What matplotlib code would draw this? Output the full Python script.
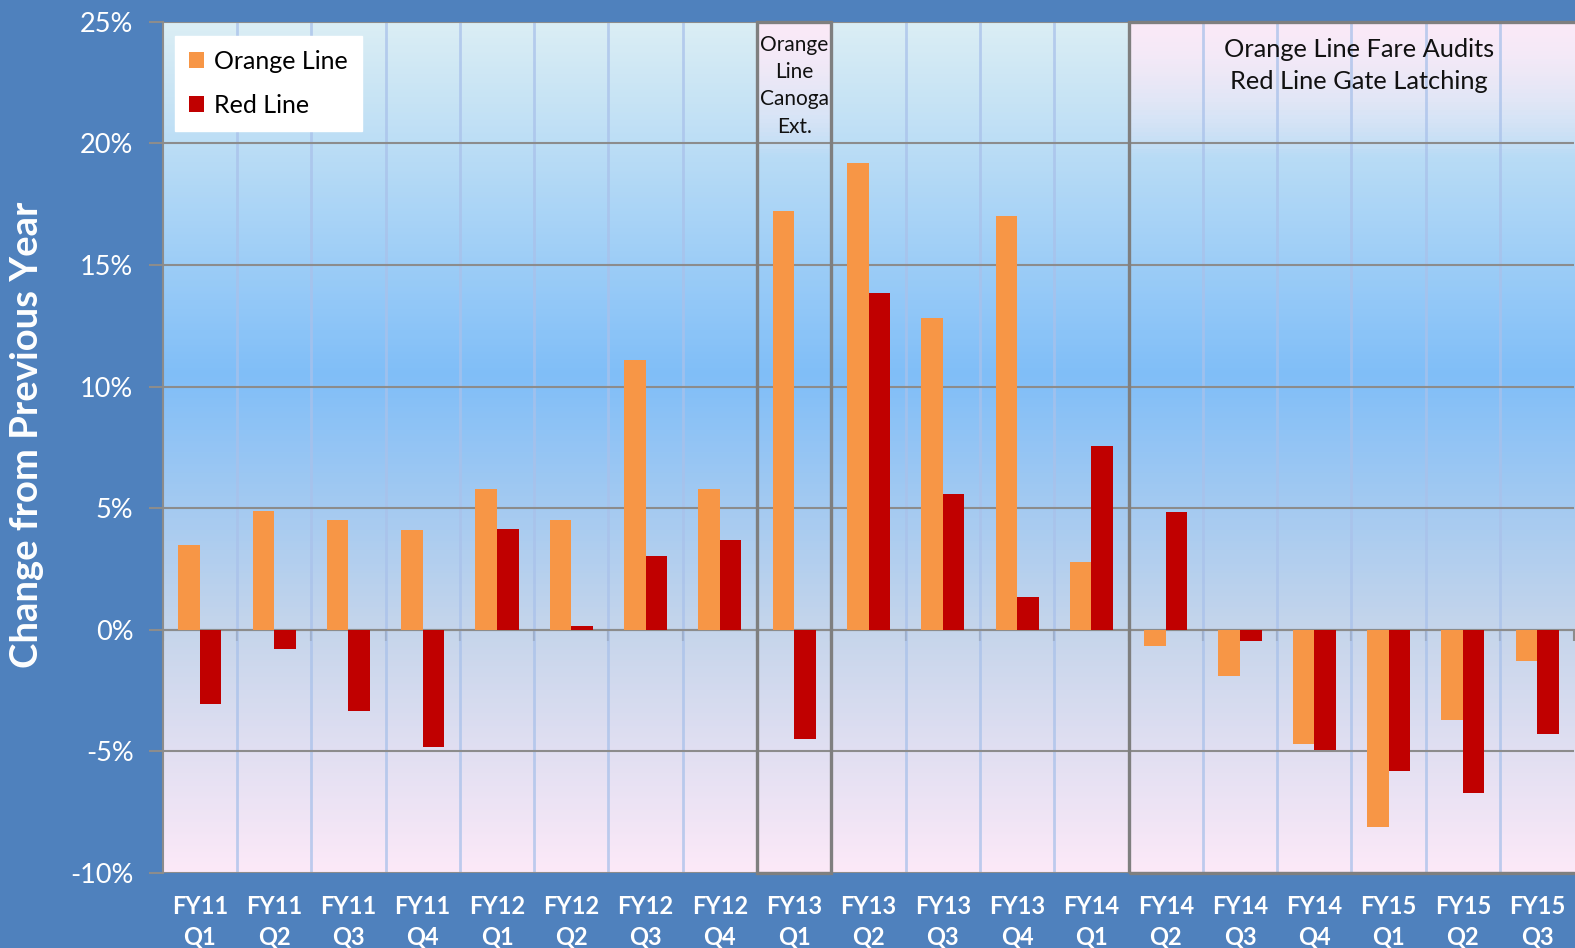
import numpy as np
import matplotlib
matplotlib.use("Agg")
import matplotlib.pyplot as plt
from matplotlib.colors import LinearSegmentedColormap, to_rgb
from matplotlib.patches import Rectangle

plt.rcParams['font.family'] = ['Lato', 'DejaVu Sans']

# data (% change from previous year)
fiscal_years = ['FY11'] * 4 + ['FY12'] * 4 + ['FY13'] * 4 + ['FY14'] * 4 + ['FY15'] * 3
quarters = ['Q1', 'Q2', 'Q3', 'Q4'] * 4 + ['Q1', 'Q2', 'Q3']
orange_line = [3.5, 4.9, 4.5, 4.1, 5.8, 4.5, 11.1, 5.8,
               17.2, 19.2, 12.8, 17.0, 2.8,
               -0.65, -1.9, -4.7, -8.1, -3.7, -1.3]
red_line = [-3.05, -0.8, -3.35, -4.8, 4.15, 0.15, 3.05, 3.7,
            -4.5, 13.85, 5.6, 1.35, 7.55,
            4.85, -0.45, -4.95, -5.8, -6.7, -4.3]
tick_labels = [f'{fy}\n{q}' for fy, q in zip(fiscal_years, quarters)]

bg_blue = '#4F81BD'
orange = '#F79646'
red = '#C00000'
grid_gray = '#8C8C8C'
box_gray = '#7F7F7F'
pink = '#FCE9F8'

ymin, ymax = -10, 25
n = len(tick_labels)
x = np.arange(n)
w = 0.29

fig = plt.figure(figsize=(15.75, 9.48), dpi=100, facecolor=bg_blue)
ax = fig.add_axes([0.1033, 0.0791, 0.8963, 0.898])
ax.set_xlim(-0.5, n - 0.5)
ax.set_ylim(ymin, ymax)

# gradient plot area background
stops = [(-10, pink), (0, '#C5D5EB'), (10.5, '#80BEF8'), (25, '#DBEEF4')]
cmap = LinearSegmentedColormap.from_list(
    'bg', [((v - ymin) / (ymax - ymin), c) for v, c in stops])
grad = np.linspace(0, 1, 400).reshape(-1, 1)
ax.imshow(grad, cmap=cmap, origin='lower', aspect='auto',
          extent=(-0.5, n - 0.5, ymin, ymax), zorder=-10)

# pinkish fade at the top of the highlighted periods
fade = np.zeros((200, 1, 4))
fade[:, 0, :3] = to_rgb(pink)
fade[:, 0, 3] = np.clip((np.linspace(ymin, ymax, 200) - 19.5) / 5.5, 0, 1) ** 0.8
for x0, x1 in [(7.5, 8.5), (12.5, n - 0.5)]:
    ax.imshow(fade, origin='lower', aspect='auto',
              extent=(x0, x1, ymin, ymax), zorder=-9)

ax.set_xlim(-0.5, n - 0.5)
ax.set_ylim(ymin, ymax)

b1 = ax.bar(x - w / 2, orange_line, w, color=orange, label='Orange Line', zorder=2)
b2 = ax.bar(x + w / 2, red_line, w, color=red, label='Red Line', zorder=2)

# grid
ax.set_axisbelow(True)
ax.set_yticks(np.arange(ymin, ymax + 1, 5),
              labels=[f'{v}%' for v in range(ymin, ymax + 1, 5)])
ax.yaxis.grid(True, color=grid_gray, lw=1.5)
ax.set_xticks(np.arange(0.5, n - 0.5, 1), minor=True)
ax.xaxis.grid(True, which='minor', color='#A9C1EA', lw=2, alpha=0.75)
ax.set_xticks(x, labels=tick_labels)

ax.tick_params(axis='x', which='both', length=0, pad=16, colors='white',
               labelsize=17)
for lab in ax.get_xticklabels():
    lab.set_fontweight('bold')
    lab.set_linespacing(1.4)
ax.tick_params(axis='y', length=10, width=1.5, color=grid_gray, pad=11,
               labelcolor='white', labelsize=19.5)

for s in ['top', 'right', 'bottom']:
    ax.spines[s].set_visible(False)
ax.spines['left'].set_color(grid_gray)
ax.spines['left'].set_linewidth(1.5)

# zero axis with category tick marks
zero_ax = ax.secondary_xaxis((0 - ymin) / (ymax - ymin))
zero_ax.set_xticks(np.arange(-0.5, n, 1), labels=[''] * (n + 1))
zero_ax.tick_params(direction='out', length=8, width=1.5, color=grid_gray)
zero_ax.spines['bottom'].set_color(grid_gray)
zero_ax.spines['bottom'].set_linewidth(1.5)

# period boxes
for x0, wd in [(7.5, 1.0), (12.5, 7.0)]:
    ax.add_patch(Rectangle((x0, ymin), wd, ymax - ymin, fill=False,
                           edgecolor=box_gray, lw=2.4, zorder=4, clip_on=False))

ax.text(8, 24.45, 'Orange\nLine\nCanoga\nExt.', ha='center', va='top',
        fontsize=15, color='#111111', linespacing=1.45, zorder=5)
ax.text(15.6, 24.35, 'Orange Line Fare Audits\nRed Line Gate Latching',
        ha='center', va='top', fontsize=18.3, color='#111111',
        linespacing=1.5, zorder=5)

ax.set_ylabel('Change from Previous Year', color='white', fontsize=27.5,
              fontweight='bold')
ax.yaxis.set_label_coords(-0.084, 0.515)

leg = ax.legend(handles=[b1, b2], loc='upper left',
                bbox_to_anchor=(0.0087, 0.9835), borderaxespad=0,
                fontsize=18, frameon=True, fancybox=False, framealpha=1,
                edgecolor='white', facecolor='white', handlelength=0.62,
                handleheight=0.62, handletextpad=0.4, labelspacing=0.85,
                borderpad=0.55)
leg.set_zorder(6)

fig.savefig('out.png', dpi=100, facecolor=bg_blue)
